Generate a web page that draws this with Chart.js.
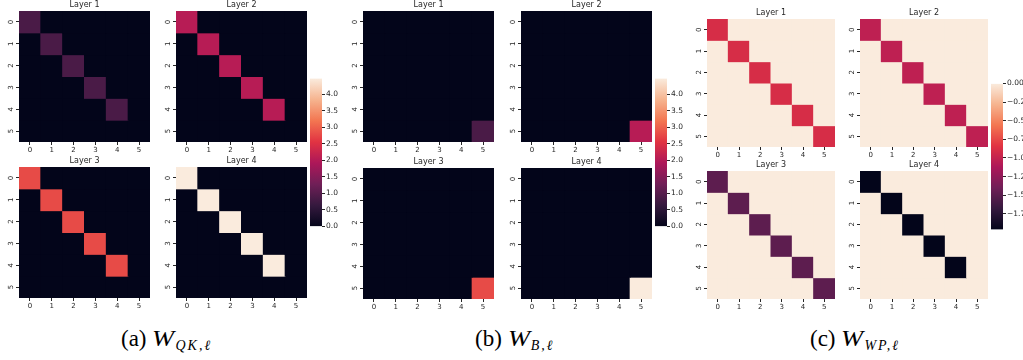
<!DOCTYPE html>
<html>
<head>
<meta charset="utf-8">
<script src="https://cdn.jsdelivr.net/npm/chart.js@4.4.1/dist/chart.umd.min.js"></script>
<style>
  html, body { margin: 0; padding: 0; background: #fff; }
  body { position: relative; width: 1023px; height: 360px; overflow: hidden; }
  canvas { position: absolute; }
  .cap {
    position: absolute; top: 328px; white-space: nowrap;
    font-family: "Liberation Serif", serif; font-size: 23px; line-height: 22px; color: #000;
  }
  .cap i { display: inline-block; font-size: 23px; transform: scaleX(1.15); transform-origin: left; margin-right: 4px; }
  .cap sub { font-size: 14px; font-style: italic; vertical-align: -4px; letter-spacing: 2px; }
</style>
</head>
<body>

<div class="cap" style="left:121px">(a) <i>W</i><sub>QK,ℓ</sub></div>
<div class="cap" style="left:475px">(b) <i>W</i><sub>B,ℓ</sub></div>
<div class="cap" style="left:810px">(c) <i>W</i><sub>WP,ℓ</sub></div>

<script>
// row / column indices of every 6x6 layer matrix
const rowLabels = ['0', '1', '2', '3', '4', '5'];
const colLabels = ['0', '1', '2', '3', '4', '5'];
const layerTitles = ['Layer 1', 'Layer 2', 'Layer 3', 'Layer 4'];

// diagonal entries per layer (everything off the diagonal is offDiag)
const qkDiag1 = [0.87, 0.87, 0.87, 0.87, 0.87, 0];
const qkDiag2 = [2.04, 2.04, 2.04, 2.04, 2.04, 0];
const qkDiag3 = [2.79, 2.79, 2.79, 2.79, 2.79, 0];
const qkDiag4 = [4.48, 4.48, 4.48, 4.48, 4.48, 0];
const qkOffDiag = 0;

const bDiag1 = [0, 0, 0, 0, 0, 0.87];
const bDiag2 = [0, 0, 0, 0, 0, 2.04];
const bDiag3 = [0, 0, 0, 0, 0, 2.79];
const bDiag4 = [0, 0, 0, 0, 0, 4.48];
const bOffDiag = 0;

const wpDiag1 = [-0.90, -0.90, -0.90, -0.90, -0.90, -0.90];
const wpDiag2 = [-1.03, -1.03, -1.03, -1.03, -1.03, -1.03];
const wpDiag3 = [-1.49, -1.49, -1.49, -1.49, -1.49, -1.49];
const wpDiag4 = [-1.96, -1.96, -1.96, -1.96, -1.96, 0];
const wpOffDiag = 0;

// colour bar ranges and ticks
const qkRange = [0, 4.48];
const bRange = [0, 4.48];
const wpRange = [-1.96, 0];
const qkBarTicks = [0.0, 0.5, 1.0, 1.5, 2.0, 2.5, 3.0, 3.5, 4.0];
const bBarTicks = [0.0, 0.5, 1.0, 1.5, 2.0, 2.5, 3.0, 3.5, 4.0];
const wpBarTicks = [0.00, -0.25, -0.50, -0.75, -1.00, -1.25, -1.50, -1.75];

// seaborn "rocket" colormap, sampled
const rocketStops = [
    [0, '#03051a'], [1 / 7, '#35193e'], [2 / 7, '#701f57'], [3 / 7, '#ad1759'],
    [4 / 7, '#e13342'], [5 / 7, '#f37651'], [6 / 7, '#f6b48f'], [1, '#faebdd']
];

function hexToRgb(h) {
    return [1, 3, 5].map(i => parseInt(h.slice(i, i + 2), 16));
}

function rocket(t) {
    t = Math.max(0, Math.min(1, t));
    for (let k = 1; k < rocketStops.length; k++) {
        const [t1, c1] = rocketStops[k];
        if (t <= t1) {
            const [t0, c0] = rocketStops[k - 1];
            const f = (t - t0) / (t1 - t0);
            const a = hexToRgb(c0), b = hexToRgb(c1);
            const m = a.map((v, i) => Math.round(v + (b[i] - v) * f));
            return `rgb(${m[0]},${m[1]},${m[2]})`;
        }
    }
    return rocketStops[rocketStops.length - 1][1];
}

function layerMatrix(diag, off) {
    return rowLabels.map((r, i) => colLabels.map((c, j) => (i === j ? diag[i] : off)));
}

Chart.defaults.font.family = 'DejaVu Sans';
Chart.defaults.color = '#262626';

const TICK_COLOR = '#262626';
const ML = 22, MR = 22, MT = 12, MB = 14;

function makeCanvas(left, top, w, h) {
    const c = document.createElement('canvas');
    c.width = w;
    c.height = h;
    c.style.left = left + 'px';
    c.style.top = top + 'px';
    document.body.appendChild(c);
    return c;
}

function drawHeatmap(left, top, size, matrix, title, range) {
    const [vmin, vmax] = range;
    const canvas = makeCanvas(left - ML, top - MT, size + ML + MR, size + MT + MB);
    const grid = { drawOnChartArea: false, drawTicks: true, tickLength: 3, color: TICK_COLOR, lineWidth: 1 };
    return new Chart(canvas, {
        type: 'bar',
        data: {
            labels: colLabels,
            datasets: rowLabels.map((r, i) => ({
                data: colLabels.map(() => [i, i + 1]),
                backgroundColor: matrix[i].map(v => rocket((v - vmin) / (vmax - vmin))),
                borderWidth: 0,
                inflateAmount: 0.5,
                barPercentage: 1,
                categoryPercentage: 1,
                grouped: false
            }))
        },
        options: {
            responsive: false,
            animation: false,
            devicePixelRatio: 1,
            layout: { padding: { left: 0, right: MR, top: 0, bottom: 0 } },
            plugins: {
                legend: { display: false },
                tooltip: { enabled: false },
                title: {
                    display: true,
                    text: title,
                    fullSize: false,
                    color: '#262626',
                    font: { size: 8, weight: 'normal', lineHeight: 1.5 },
                    padding: 0
                }
            },
            scales: {
                x: {
                    type: 'category',
                    offset: true,
                    grid: Object.assign({ offset: false }, grid),
                    border: { display: false },
                    ticks: { font: { size: 7 }, color: '#262626', padding: 1, maxRotation: 0, autoSkip: false },
                    afterFit: s => { s.height = MB; }
                },
                y: {
                    type: 'linear',
                    reverse: true,
                    min: 0,
                    max: rowLabels.length,
                    afterBuildTicks: s => { s.ticks = rowLabels.map((l, i) => ({ value: i + 0.5 })); },
                    grid: grid,
                    border: { display: false },
                    ticks: {
                        font: { size: 7 }, color: '#262626', padding: 3,
                        minRotation: 90, maxRotation: 90, crossAlign: 'center',
                        callback: (v, i) => rowLabels[i]
                    },
                    afterFit: s => { s.width = ML; }
                }
            }
        }
    });
}

function drawColorbar(left, top, height, range, tickVals, digits) {
    const [vmin, vmax] = range;
    const pad = 5, barW = 12, axisW = 40;
    const canvas = makeCanvas(left, top - pad, barW + axisW, height + 2 * pad);
    return new Chart(canvas, {
        type: 'bar',
        data: {
            labels: [''],
            datasets: [{
                data: [[vmin, vmax]],
                borderWidth: 0,
                barPercentage: 1,
                categoryPercentage: 1,
                backgroundColor: c => {
                    const area = c.chart.chartArea;
                    if (!area) return '#000';
                    const g = c.chart.ctx.createLinearGradient(0, area.bottom, 0, area.top);
                    rocketStops.forEach(([t, col]) => g.addColorStop(t, col));
                    return g;
                }
            }]
        },
        options: {
            responsive: false,
            animation: false,
            devicePixelRatio: 1,
            layout: { padding: { left: 0, right: 0, top: pad, bottom: pad } },
            plugins: { legend: { display: false }, tooltip: { enabled: false } },
            scales: {
                x: { display: false, offset: true },
                y: {
                    position: 'right',
                    min: vmin,
                    max: vmax,
                    afterBuildTicks: s => { s.ticks = tickVals.map(v => ({ value: v })); },
                    grid: { drawOnChartArea: false, drawTicks: true, tickLength: 3, color: TICK_COLOR },
                    border: { display: false },
                    ticks: {
                        font: { size: 7.5 }, color: '#262626', padding: 1,
                        callback: (v, i) => tickVals[i].toFixed(digits).replace('-', '\u2212')
                    },
                    afterFit: s => { s.width = axisW; }
                }
            }
        }
    });
}

// (a) W_QK
const qkLayers = [qkDiag1, qkDiag2, qkDiag3, qkDiag4].map(d => layerMatrix(d, qkOffDiag));
const qkX = [19, 176], qkY = [11, 167];
qkLayers.forEach((m, k) => drawHeatmap(qkX[k % 2], qkY[Math.floor(k / 2)], 131, m, layerTitles[k], qkRange));
drawColorbar(310, 78, 149, qkRange, qkBarTicks, 1);

// (b) W_B
const bLayers = [bDiag1, bDiag2, bDiag3, bDiag4].map(d => layerMatrix(d, bOffDiag));
const bX = [363, 521], bY = [11, 168];
bLayers.forEach((m, k) => drawHeatmap(bX[k % 2], bY[Math.floor(k / 2)], 131, m, layerTitles[k], bRange));
drawColorbar(655, 78, 149, bRange, bBarTicks, 1);

// (c) W_WP
const wpLayers = [wpDiag1, wpDiag2, wpDiag3, wpDiag4].map(d => layerMatrix(d, wpOffDiag));
const wpX = [707, 860], wpY = [19, 171];
wpLayers.forEach((m, k) => drawHeatmap(wpX[k % 2], wpY[Math.floor(k / 2)], 128, m, layerTitles[k], wpRange));
drawColorbar(991, 83, 147, wpRange, wpBarTicks, 2);
</script>
</body>
</html>
